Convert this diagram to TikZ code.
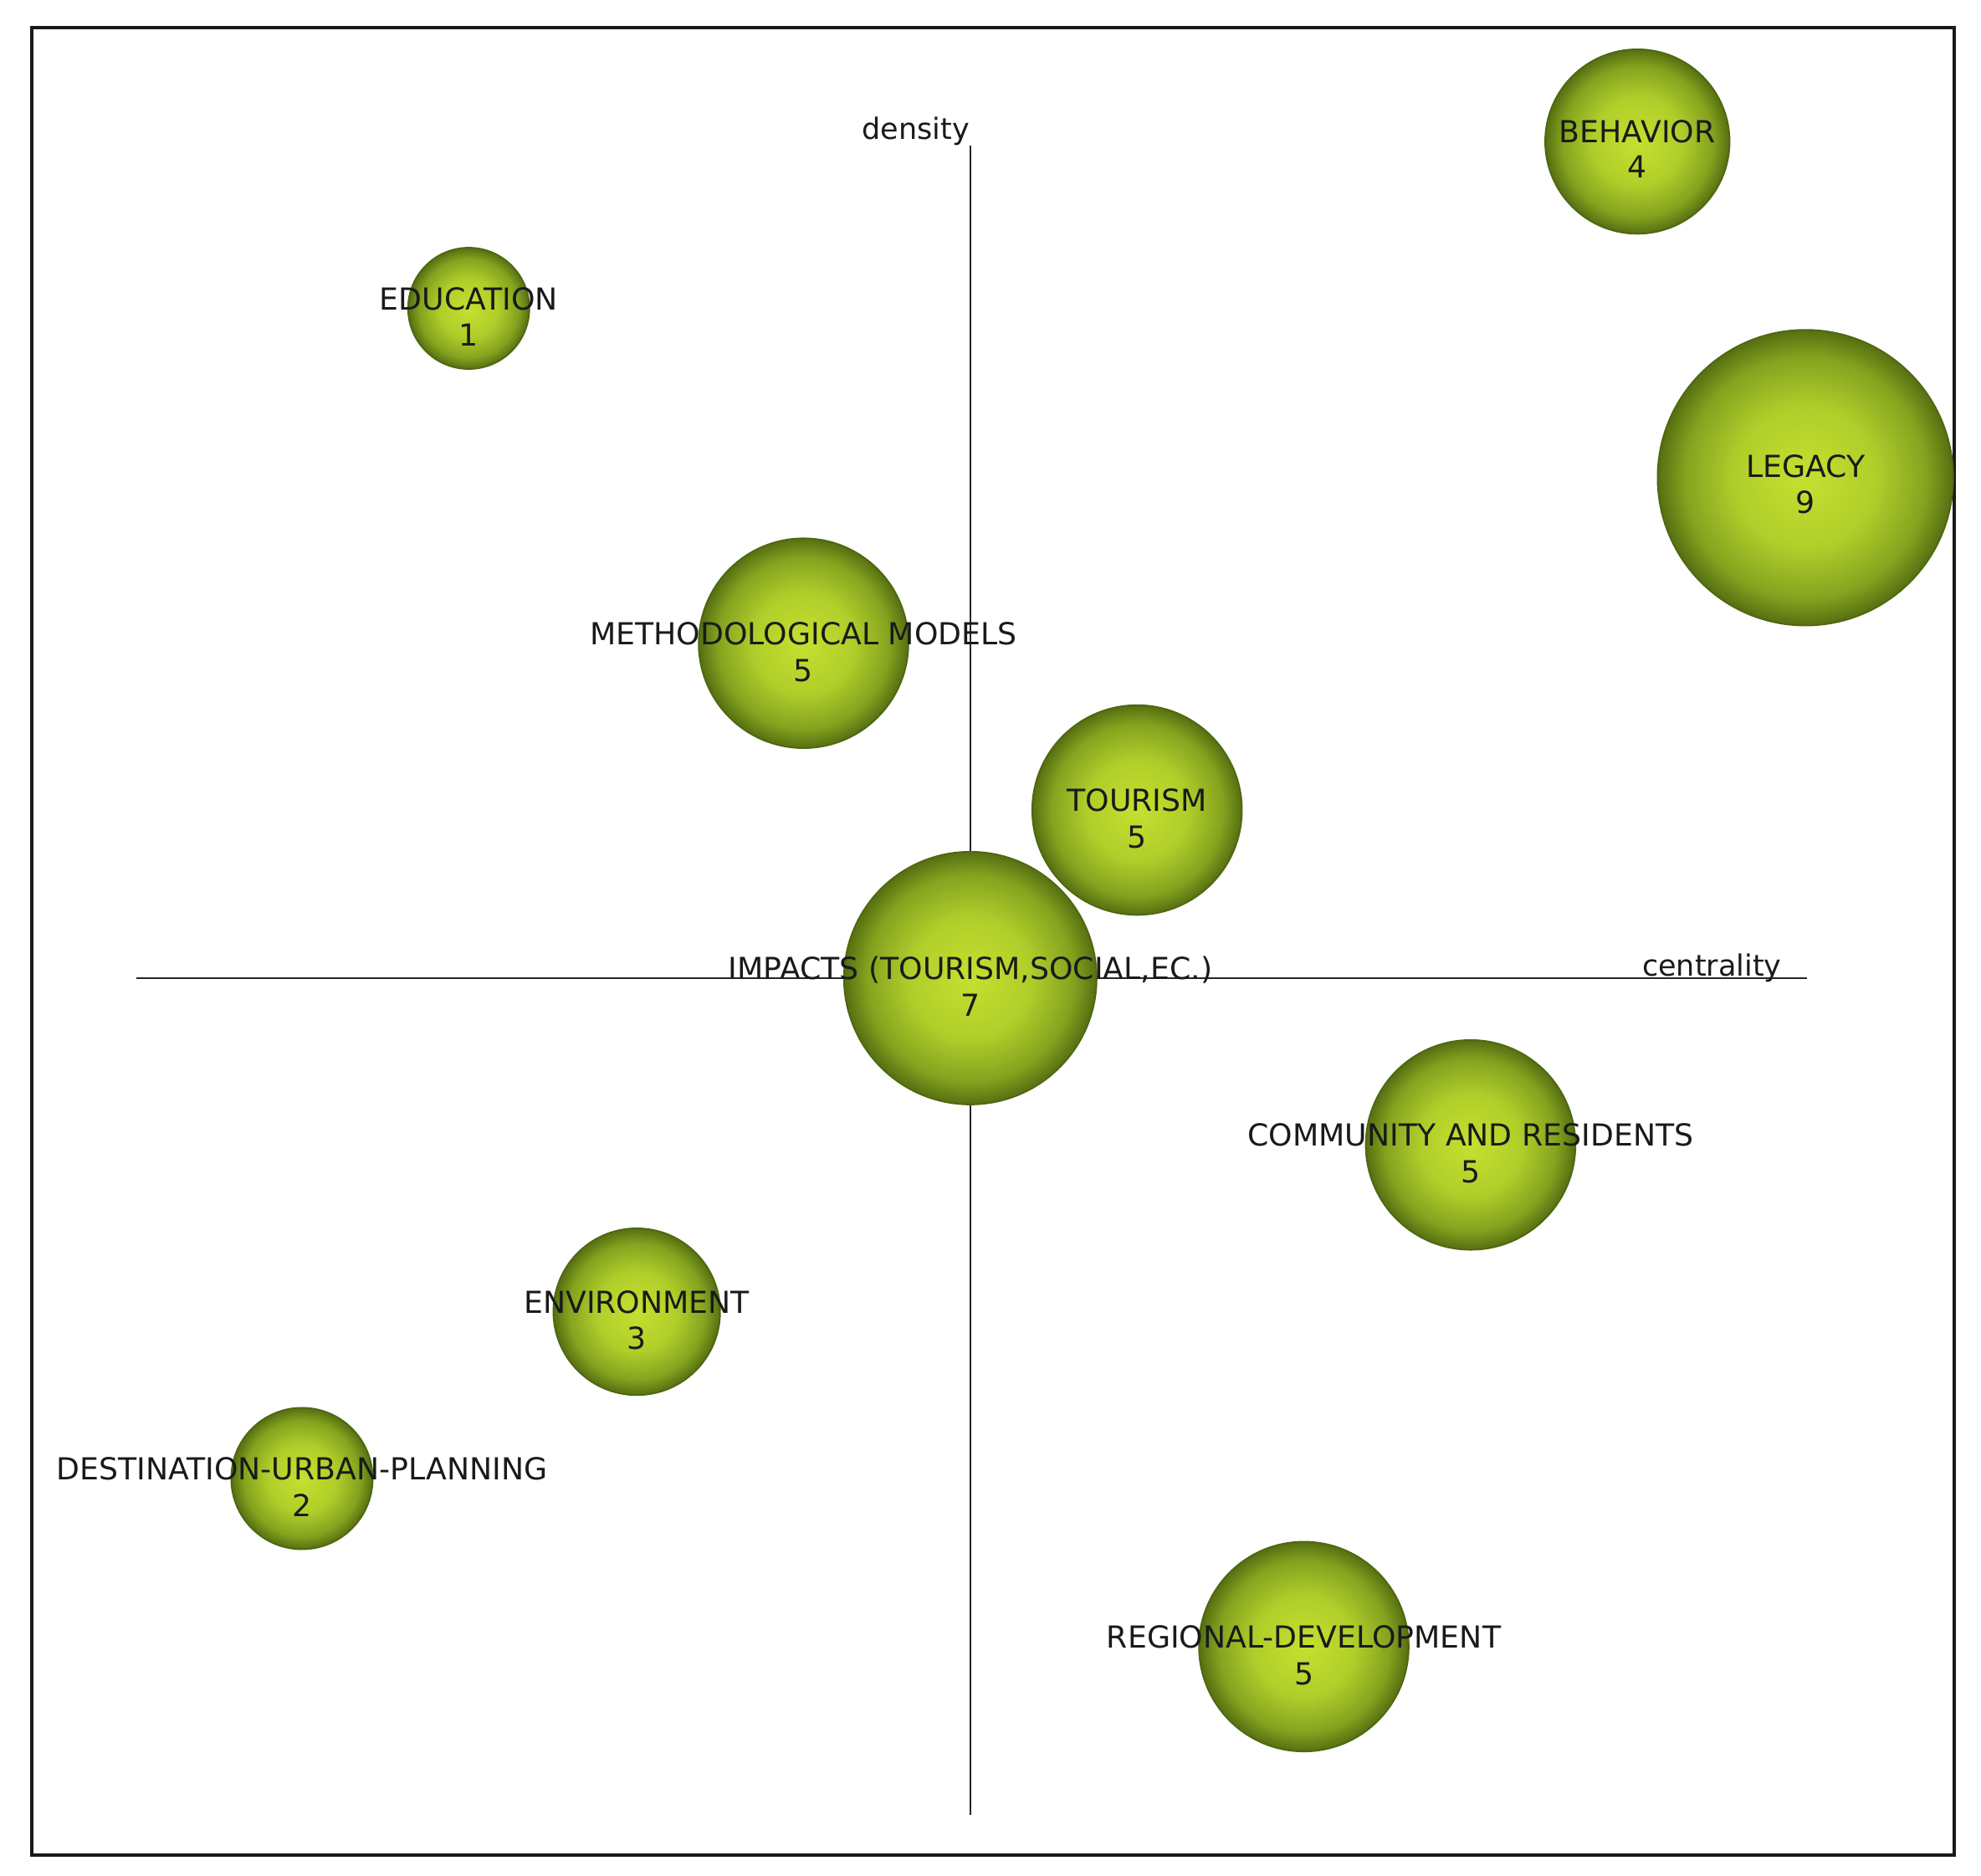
\documentclass[tikz,border=0pt]{standalone}
\usepackage{fontspec}
\setmainfont{DejaVu Sans}
\definecolor{bubA}{HTML}{C6E030}
\definecolor{bubB}{HTML}{B0CE2A}
\definecolor{bubC}{HTML}{84A21E}
\definecolor{bubD}{HTML}{566F12}
\definecolor{rimcol}{HTML}{4F6610}
\definecolor{txt}{HTML}{1A1A1A}
\pgfdeclareradialshading{bubshade}{\pgfpoint{0bp}{0bp}}{color(0bp)=(bubA); color(12bp)=(bubB); color(20.5bp)=(bubC); color(25bp)=(bubD); color(50bp)=(bubD)}
\tikzset{
  bubble/.style={circle, shading=bubshade, draw=rimcol, line width=0.6pt, inner sep=0pt},
  lbl/.style={anchor=base, inner sep=0pt, text=txt, font=\fontsize{12}{14}\selectfont},
  axislbl/.style={inner sep=0pt, text=txt, font=\fontsize{11.6}{14}\selectfont},
  axisline/.style={line width=0.8pt, draw=black!85},
  frameline/.style={line width=1.4pt, draw=black!90}
}
\begin{document}
\begin{tikzpicture}[x=0.5pt,y=-0.5pt]
\useasboundingbox (0,0) rectangle (1568,1484);
\fill[white] (0,0) rectangle (1568,1484);
% frame
\coordinate (f1) at (25,22);
\coordinate (f2) at (1547,1468);
\draw[frameline] (f1) rectangle (f2);
% axes
\coordinate (vt) at (768,115);
\coordinate (vb) at (768,1436);
\coordinate (hl) at (108,774);
\coordinate (hr) at (1430,774);
\draw[axisline] (vt) -- (vb);
\draw[axisline] (hl) -- (hr);
% bubbles
\node[bubble, minimum size=73pt] (behavior) at (1296,112) {};
\node[bubble, minimum size=48pt] (education) at (371,244) {};
\node[bubble, minimum size=117pt] (legacy) at (1429,378) {};
\node[bubble, minimum size=83pt] (method) at (636,509) {};
\node[bubble, minimum size=83pt] (tourism) at (900,641) {};
\node[bubble, minimum size=100pt] (impacts) at (768,774) {};
\node[bubble, minimum size=83pt] (community) at (1164,906) {};
\node[bubble, minimum size=66pt] (environment) at (504,1038) {};
\node[bubble, minimum size=56pt] (destination) at (239,1170) {};
\node[bubble, minimum size=83pt] (regional) at (1032,1303) {};
% labels
\node[axislbl] (density) at (725,104) {density};
\node[axislbl] (centrality) at (1355,766) {centrality};
\node[lbl] (behaviorT) at (1296,113) {BEHAVIOR};
\node[lbl] (behaviorN) at (1296,141) {4};
\node[lbl] (educationT) at (371,245) {EDUCATION};
\node[lbl] (educationN) at (371,274) {1};
\node[lbl] (legacyT) at (1429,378) {LEGACY};
\node[lbl] (legacyN) at (1429,406) {9};
\node[lbl] (methodT) at (636,510) {METHODOLOGICAL MODELS};
\node[lbl] (methodN) at (636,539) {5};
\node[lbl] (tourismT) at (900,642) {TOURISM};
\node[lbl] (tourismN) at (900,671) {5};
\node[lbl] (impactsT) at (768,775) {IMPACTS (TOURISM,SOCIAL,EC.)};
\node[lbl] (impactsN) at (768,804) {7};
\node[lbl] (communityT) at (1164,907) {COMMUNITY AND RESIDENTS};
\node[lbl] (communityN) at (1164,936) {5};
\node[lbl] (environmentT) at (504,1039) {ENVIRONMENT};
\node[lbl] (environmentN) at (504,1068) {3};
\node[lbl] (destinationT) at (239,1171) {DESTINATION-URBAN-PLANNING};
\node[lbl] (destinationN) at (239,1200) {2};
\node[lbl] (regionalT) at (1032,1304) {REGIONAL-DEVELOPMENT};
\node[lbl] (regionalN) at (1032,1333) {5};
\end{tikzpicture}
\end{document}
